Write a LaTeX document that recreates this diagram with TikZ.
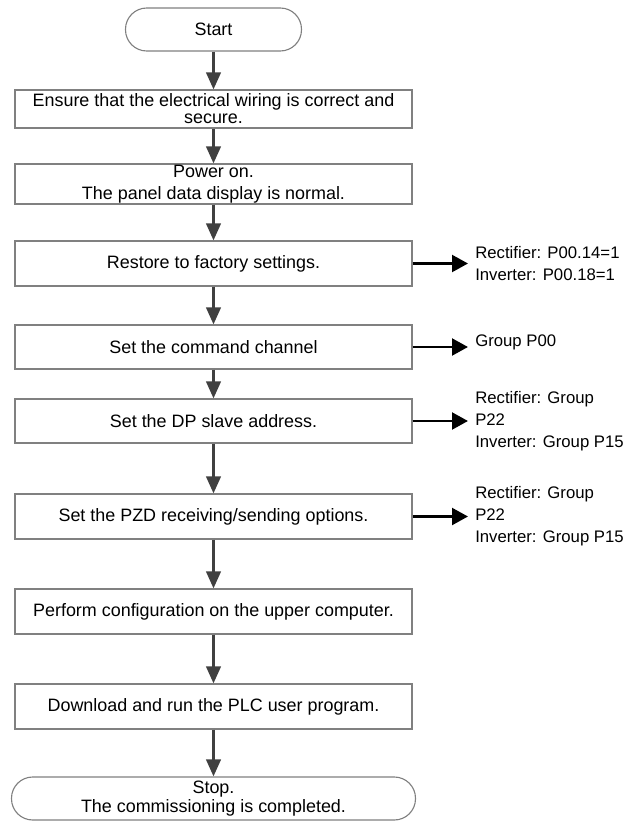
\documentclass[tikz,border=0pt]{standalone}
\usepackage{fontspec}
\setmainfont{Liberation Sans}
\usepackage{tikz}
\usetikzlibrary{arrows.meta,positioning}
\definecolor{boxgrey}{RGB}{128,128,128}
\definecolor{arrowgrey}{RGB}{64,64,64}
\tikzset{
  base/.style={font=\fontsize{12.75}{15.6}\selectfont, align=center, inner sep=0pt, text=black},
  stepbox/.style={base, rectangle, draw=boxgrey, line width=0.8pt, minimum width=9.925cm},
  term/.style={stepbox, rounded corners=5.3mm},
  note/.style={base, font=\fontsize{11.9}{15.6}\selectfont, align=left, anchor=west, inner xsep=1.75mm, inner ysep=0pt},
  arr/.style={-{Triangle[length=4.25mm,width=3.6mm]}, line width=2pt, draw=arrowgrey},
  arrs/.style={-{Triangle[length=4mm,width=4.2mm]}, line width=2pt, draw=black},
}
\begin{document}
\begin{tikzpicture}
  \useasboundingbox (0,0) rectangle (15.8,-20.525);
  % main column
  \node[term,minimum width=4.4cm,minimum height=1.075cm] (start) at (5.3375,-0.7375) {Start};
  \node[stepbox,minimum height=0.95cm,font=\fontsize{12.75}{12}\selectfont] (b1) at (5.3375,-2.725) {Ensure that the electrical wiring is correct and\\secure.};
  \node[stepbox,minimum height=1.0cm] (b2) at (5.3375,-4.6) {Power on.\\The panel data display is normal.};
  \node[stepbox,minimum height=1.125cm] (b3) at (5.3375,-6.5875) {Restore to factory settings.};
  \node[stepbox,minimum height=1.1cm] (b4) at (5.3375,-8.675) {Set the command channel};
  \node[stepbox,minimum height=1.1cm] (b5) at (5.3375,-10.525) {Set the DP slave address.};
  \node[stepbox,minimum height=1.125cm] (b6) at (5.3375,-12.9125) {Set the PZD receiving/sending options.};
  \node[stepbox,minimum height=1.125cm] (b7) at (5.3375,-15.2875) {Perform configuration on the upper computer.};
  \node[stepbox,minimum height=1.125cm] (b8) at (5.3375,-17.6625) {Download and run the PLC user program.};
  \node[term,minimum width=10.1cm,minimum height=1.075cm,font=\fontsize{12.75}{13.5}\selectfont] (stop) at (5.3375,-19.9625) {Stop.\\The commissioning is completed.};
  \foreach \a/\b in {start/b1,b1/b2,b2/b3,b3/b4,b4/b5,b5/b6,b6/b7,b7/b8,b8/stop}{
    \draw[arr] (\a) -- (\b);
  }
  % parameter notes
  \node[note] (n3) at (11.7,-6.5875) {Rectifier: P00.14=1\\Inverter: P00.18=1};
  \node[note] (n4) at (11.7,-8.55) {Group P00};
  \node[note] (n5) at (11.7,-10.525) {Rectifier: Group\\P22\\Inverter: Group P15};
  \node[note] (n6) at (11.7,-12.9125) {Rectifier: Group\\P22\\Inverter: Group P15};
  \foreach \i in {3,4,5,6}{
    \draw[arrs] (b\i.east) -- (b\i.east -| n\i.west);
  }
\end{tikzpicture}
\end{document}
